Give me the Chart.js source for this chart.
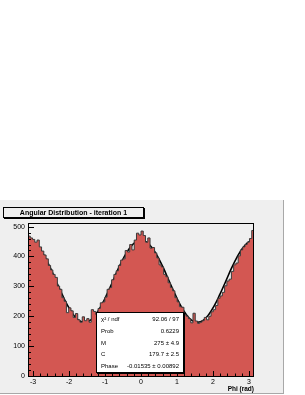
<!DOCTYPE html>
<html>
<head>
<meta charset="utf-8">
<script src="https://cdn.jsdelivr.net/npm/chart.js@4"></script>
<style>
  body { margin: 0; background: #fff; font-family: "Liberation Sans", Arial, sans-serif; }
  #pad { position: absolute; left: 0; top: 200px; width: 283px; height: 193px; background: #efefef;
         border-right: 1px solid #a8a8a8; border-bottom: 1px solid #a8a8a8; }
  #c { position: absolute; left: 0; top: 0; }
  #title { position: absolute; left: 3px; top: 7px; width: 139px; height: 9px; background: #efefef;
           border: 1px solid #000; box-shadow: 1px 1px 0 #000; font: bold 7px "Liberation Sans", Arial, sans-serif;
           line-height: 9px; text-align: center; }
  #stats { position: absolute; left: 96px; top: 112px; width: 86px; height: 59px; background: #fff;
           border: 1px solid #000; box-shadow: 1px 1px 0 #000; font: 6px "Liberation Sans", Arial, sans-serif; }
  #stats .row { position: absolute; left: 4px; right: 4px; height: 11.8px; line-height: 11.8px; }
  #stats .row span { position: absolute; right: 0; }
  #xtitle { position: absolute; right: 29px; top: 185px; font: bold 6.5px "Liberation Sans", Arial, sans-serif; }
</style>
</head>
<body>
<div id="pad">
  <canvas id="c" width="283" height="193"></canvas>
  <div id="title">Angular Distribution - iteration 1</div>
  <div id="xtitle">Phi (rad)</div>
  <div id="stats"></div>
</div>
<script>
// histogram: 100 bins over [-pi, pi]
const counts = [
  468, 462, 457, 448, 455, 432, 418, 405, 392, 370,
  355, 340, 330, 301, 290, 262, 250, 212, 228, 218,
  196, 209, 188, 180, 198, 185, 192, 180, 222, 216,
  206, 226, 245, 248, 264, 290, 296, 322, 340, 352,
  370, 388, 392, 420, 415, 440, 422, 455, 478, 472,
  485, 470, 448, 462, 428, 430, 412, 395, 372, 365,
  340, 332, 312, 296, 285, 262, 248, 232, 230, 205,
  200, 192, 178, 210, 184, 176, 180, 185, 196, 188,
  200, 215, 222, 236, 260, 268, 280, 302, 318, 324,
  350, 372, 378, 402, 422, 432, 440, 448, 460, 487
];
// fit curve read at steps of pi/20 from -pi to pi
const fitValues = [
  455, 448, 428, 398, 360, 317, 275, 236, 206, 186, 180,
  186, 206, 236, 275, 317, 360, 398, 428, 448, 455,
  448, 428, 398, 360, 317, 275, 236, 206, 186, 180,
  186, 206, 236, 275, 317, 360, 398, 428, 448, 455
];
const xTicks = [-3, -2, -1, 0, 1, 2, 3];
const yTicks = [0, 100, 200, 300, 400, 500];
const statLabels = ['χ² / ndf', 'Prob', 'M', 'C', 'Phase'];
const statValues = ['92.06 / 97', '0.6229', '275 ± 4.9', '179.7 ± 2.5', '-0.01535 ± 0.00892'];

const stats = document.getElementById('stats');
statLabels.forEach((l, i) => {
  const r = document.createElement('div');
  r.className = 'row';
  r.style.top = (1 + i * 11.8) + 'px';
  r.innerHTML = l + '<span>' + statValues[i] + '</span>';
  stats.appendChild(r);
});

const lo = -Math.PI, hi = Math.PI;
const bw = (hi - lo) / counts.length;
const histPts = counts.map((v, i) => ({ x: lo + i * bw, y: v }));
histPts.push({ x: hi, y: counts[counts.length - 1] });
const fstep = (hi - lo) / (fitValues.length - 1);
const fitPts = fitValues.map((v, i) => ({ x: lo + i * fstep, y: v }));

const rootAxes = {
  id: 'rootAxes',
  afterDatasetsDraw(chart) {
    const { ctx, chartArea: a, scales: { x, y } } = chart;
    ctx.save();
    ctx.strokeStyle = '#000';
    ctx.lineWidth = 1;
    ctx.strokeRect(a.left + 0.5, a.top + 0.5, a.right - a.left - 1, a.bottom - a.top);
    ctx.beginPath();
    for (let i = 0; i < yTicks.length; i++) {
      for (let k = 0; k < 5; k++) {
        const v = yTicks[i] + k * 20;
        if (v > y.max) break;
        const py = Math.round(y.getPixelForValue(v)) + 0.5;
        const len = k === 0 ? 6 : 3;
        ctx.moveTo(a.left, py); ctx.lineTo(a.left + len, py);
      }
    }
    for (let i = -1; i < xTicks.length; i++) {
      const base = i < 0 ? xTicks[0] - 1 : xTicks[i];
      for (let k = 0; k < 5; k++) {
        const v = base + k * 0.2;
        if (v < x.min || v > x.max) continue;
        const px = Math.round(x.getPixelForValue(v)) + 0.5;
        const len = k === 0 ? 5 : 2.5;
        ctx.moveTo(px, a.bottom); ctx.lineTo(px, a.bottom - len);
      }
    }
    ctx.stroke();
    ctx.restore();
  }
};

new Chart(document.getElementById('c'), {
  type: 'line',
  data: {
    datasets: [
      {
        data: histPts,
        stepped: true,
        fill: 'origin',
        backgroundColor: '#d35752',
        borderColor: '#3a3a3a',
        borderWidth: 1,
        pointRadius: 0
      },
      {
        data: fitPts,
        tension: 0.4,
        fill: false,
        borderColor: '#000',
        borderWidth: 1.6,
        pointRadius: 0
      }
    ]
  },
  plugins: [rootAxes],
  options: {
    responsive: false,
    animation: false,
    devicePixelRatio: 1,
    layout: { padding: { left: 0, right: 29, top: 23, bottom: 0 } },
    plugins: { legend: { display: false }, tooltip: { enabled: false } },
    scales: {
      x: {
        type: 'linear', min: lo, max: hi,
        afterBuildTicks: s => { s.ticks = xTicks.map(v => ({ value: v })); },
        afterFit: s => { s.height = 17; },
        grid: { display: false, drawTicks: false },
        border: { display: false },
        ticks: { color: '#000', padding: 2, maxRotation: 0, font: { size: 7, family: 'Liberation Sans' } }
      },
      y: {
        type: 'linear', min: 0, max: 512,
        afterBuildTicks: s => { s.ticks = yTicks.map(v => ({ value: v })); },
        afterFit: s => { s.width = 28; },
        grid: { display: false, drawTicks: false },
        border: { display: false },
        ticks: { color: '#000', padding: 3, font: { size: 7, family: 'Liberation Sans' } }
      }
    }
  }
});
</script>
</body>
</html>
